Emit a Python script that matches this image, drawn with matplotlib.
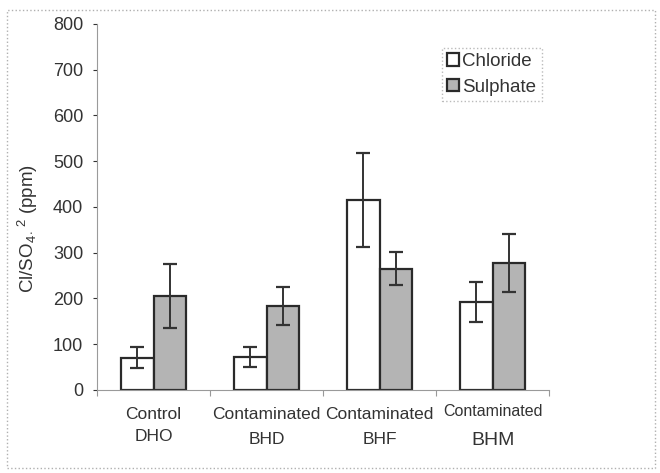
import numpy as np
import matplotlib
matplotlib.use("Agg")
import matplotlib.pyplot as plt
from matplotlib.patches import Rectangle

plt.rcParams['font.family'] = ['Liberation Sans', 'DejaVu Sans']
plt.rcParams['mathtext.fontset'] = 'custom'
plt.rcParams['mathtext.rm'] = 'Liberation Sans'
plt.rcParams['mathtext.it'] = 'Liberation Sans'

# mean concentrations (ppm) and error bar half-widths
sites = ["Control\nDHO", "Contaminated\nBHD", "Contaminated\nBHF", "Contaminated\nBHM"]
chloride = [70, 72, 415, 192]
chloride_err = [23, 21, 102, 43]
sulphate = [205, 184, 265, 278]
sulphate_err = [70, 41, 36, 63]
yticks = [0, 100, 200, 300, 400, 500, 600, 700, 800]

fig = plt.figure(figsize=(6.6, 4.73), dpi=100)
ax = fig.add_axes([0.147, 0.1755, 0.685, 0.774])

x = np.arange(len(sites))
w = 0.29
edge = "#2a2a2a"
ax.bar(x - w / 2, chloride, w, color="white", edgecolor=edge, linewidth=1.6,
       label="Chloride", zorder=2)
ax.bar(x + w / 2, sulphate, w, color="#b4b4b4", edgecolor=edge, linewidth=1.6,
       label="Sulphate", zorder=2)
ax.errorbar(x - w / 2, chloride, yerr=chloride_err, fmt="none", ecolor="#333333",
            elinewidth=1.4, capsize=5, capthick=1.6, zorder=3)
ax.errorbar(x + w / 2, sulphate, yerr=sulphate_err, fmt="none", ecolor="#333333",
            elinewidth=1.4, capsize=5, capthick=1.6, zorder=3)

ax.set_xlim(-0.5, len(sites) - 0.5)
ax.set_ylim(0, 800)
ax.set_yticks(yticks)
ax.tick_params(axis="y", labelsize=13, colors="#333333", length=3,
               width=0.8, direction="out", pad=7)
ax.set_xticks(np.arange(-0.5, len(sites), 1.0))
ax.set_xticklabels([])
ax.tick_params(axis="x", length=4, width=0.8, colors="#999999", direction="out")

for s in ["top", "right"]:
    ax.spines[s].set_visible(False)
ax.spines["left"].set_color("#9a9a9a")
ax.spines["bottom"].set_color("#9a9a9a")
ax.spines["left"].set_linewidth(0.8)
ax.spines["bottom"].set_linewidth(0.8)

# category labels under each pair of bars
for i, name in enumerate(sites):
    top, bottom = name.split("\n")
    if i == len(sites) - 1:
        ax.text(i, -0.058, top, transform=ax.get_xaxis_transform(), ha="center",
                va="center", fontsize=11.5, color="#333333")
        ax.text(i, -0.137, bottom, transform=ax.get_xaxis_transform(), ha="center",
                va="center", fontsize=14, color="#333333")
    else:
        ax.text(i, -0.066, top, transform=ax.get_xaxis_transform(), ha="center",
                va="center", fontsize=12.5, color="#333333")
        ax.text(i, -0.134 if i else -0.128, bottom, transform=ax.get_xaxis_transform(),
                ha="center", va="center", fontsize=12.5, color="#333333")

ax.set_ylabel(r"Cl/SO$_{4}$$_{\cdot}$$^{\ 2}$ (ppm)", fontsize=13.5, color="#333333")
ax.yaxis.set_label_coords(-0.127, 0.44)

leg = ax.legend(loc="upper left", bbox_to_anchor=(0.762, 0.935), fontsize=13.5,
                frameon=True, fancybox=False, handlelength=0.65, handleheight=0.65,
                handletextpad=0.15, borderpad=0.3, labelspacing=0.45,
                borderaxespad=0)
leg.get_frame().set_edgecolor("#aaaaaa")
leg.get_frame().set_linestyle(":")
leg.get_frame().set_linewidth(1.0)
for t in leg.get_texts():
    t.set_color("#333333")

# outer chart border
fig.patches.append(Rectangle((0.011, 0.011), 0.982, 0.968, transform=fig.transFigure,
                             fill=False, edgecolor="#b0b0b0", linewidth=1.0,
                             linestyle=":"))

fig.savefig("out.png", dpi=100)
